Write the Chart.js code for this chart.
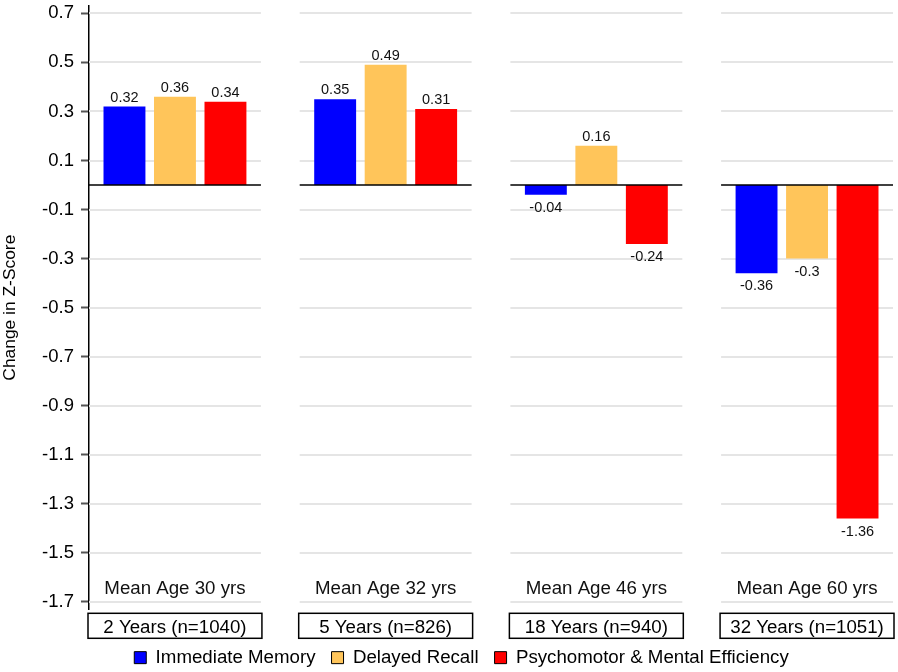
<!DOCTYPE html>
<html>
<head>
<meta charset="utf-8">
<script src="https://cdn.jsdelivr.net/npm/chart.js@4"></script>
<style>
  html, body { margin: 0; padding: 0; background: #fff; }
</style>
</head>
<body>
<canvas id="myChart" width="898" height="672"></canvas>
<script>
// Data
const ageLabels = ["Mean Age 30 yrs", "Mean Age 32 yrs", "Mean Age 46 yrs", "Mean Age 60 yrs"];
const followUps = ["2 Years (n=1040)", "5 Years (n=826)", "18 Years (n=940)", "32 Years (n=1051)"];
const immediateMemory = [0.32, 0.35, -0.04, -0.36];
const delayedRecall = [0.36, 0.49, 0.16, -0.3];
const psychomotor = [0.34, 0.31, -0.24, -1.36];
const yTicks = [0.7, 0.5, 0.3, 0.1, -0.1, -0.3, -0.5, -0.7, -0.9, -1.1, -1.3, -1.5, -1.7];

const FONT = "'Liberation Sans', Arial, sans-serif";
const HALF = 0.408; // half width of one panel, in x units

function points(values) {
  return values.map((v, i) => ({ x: i, y: v }));
}

// Panels: segmented grid lines, zero line, labels and boxes
const panelPlugin = {
  id: "panels",
  afterLayout(chart) {
    // pull the legend up a little, closer to the boxes
    chart.legend.top -= 6;
    chart.legend.bottom -= 6;
  },
  beforeDatasetsDraw(chart) {
    const { ctx, scales: { x, y } } = chart;
    ctx.save();
    ctx.strokeStyle = "#e5e5e5";
    ctx.lineWidth = 2;
    followUps.forEach((_, i) => {
      const l = x.getPixelForValue(i - HALF);
      const r = x.getPixelForValue(i + HALF);
      y.ticks.forEach((t) => {
        const py = Math.round(y.getPixelForValue(t.value));
        ctx.beginPath();
        ctx.moveTo(l, py);
        ctx.lineTo(r, py);
        ctx.stroke();
      });
    });
    ctx.restore();
  },
  afterDatasetsDraw(chart) {
    const { ctx, chartArea, scales: { x, y } } = chart;
    ctx.save();
    // zero line
    ctx.strokeStyle = "#000";
    ctx.lineWidth = 1.5;
    const zy = y.getPixelForValue(0);
    followUps.forEach((_, i) => {
      ctx.beginPath();
      ctx.moveTo(x.getPixelForValue(i - HALF), zy);
      ctx.lineTo(x.getPixelForValue(i + HALF), zy);
      ctx.stroke();
    });
    // value labels
    ctx.fillStyle = "#111";
    ctx.font = "14.5px " + FONT;
    ctx.textAlign = "center";
    ctx.textBaseline = "alphabetic";
    chart.data.datasets.forEach((ds, d) => {
      chart.getDatasetMeta(d).data.forEach((bar, i) => {
        const v = ds.data[i].y;
        const ty = v >= 0 ? bar.y - 5 : bar.y + 17;
        ctx.fillText(String(v), bar.x, ty);
      });
    });
    // mean age labels
    ctx.font = "18.7px " + FONT;
    ctx.textBaseline = "middle";
    ageLabels.forEach((lab, i) => {
      ctx.fillText(lab, x.getPixelForValue(i), chartArea.bottom - 20);
    });
    ctx.restore();
  },
  afterDraw(chart) {
    const { ctx, chartArea, scales: { x } } = chart;
    ctx.save();
    ctx.strokeStyle = "#000";
    ctx.lineWidth = 1.5;
    followUps.forEach((_, i) => {
      const l = x.getPixelForValue(i - HALF) - 1;
      const r = x.getPixelForValue(i + HALF) + 1;
      ctx.strokeRect(l, chartArea.bottom + 4, r - l, 25);
    });
    ctx.restore();
  },
};

const data = {
  datasets: [
    { label: "Immediate Memory", backgroundColor: "#0000ff", data: points(immediateMemory) },
    { label: "Delayed Recall", backgroundColor: "#ffc55a", data: points(delayedRecall) },
    { label: "Psychomotor & Mental Efficiency", backgroundColor: "#ff0000", data: points(psychomotor) },
  ],
};

const config = {
  type: "bar",
  data: data,
  plugins: [panelPlugin],
  options: {
    responsive: false,
    animation: false,
    categoryPercentage: 0.719,
    barPercentage: 0.83,
    layout: { padding: { left: 30, right: 5, top: 6, bottom: -11 } },
    scales: {
      x: {
        type: "linear",
        offset: false,
        min: -HALF,
        max: 3 + HALF,
        afterBuildTicks: (scale) => {
          scale.ticks = followUps.map((_, i) => ({ value: i }));
        },
        afterFit: (scale) => {
          scale.height = 29;
        },
        grid: { display: false, drawTicks: false },
        border: { display: false },
        ticks: {
          autoSkip: false,
          maxRotation: 0,
          padding: 7,
          color: "#000",
          font: { family: FONT, size: 18.7 },
          callback: (value) => followUps[value],
        },
      },
      y: {
        min: -1.73,
        max: 0.73,
        afterBuildTicks: (scale) => {
          scale.ticks = yTicks.map((v) => ({ value: v }));
        },
        afterFit: (scale) => {
          scale.width = 59;
          scale.paddingTop = 0;
          scale.paddingBottom = 0;
        },
        grid: {
          drawOnChartArea: false,
          drawTicks: true,
          tickLength: 8,
          tickColor: "#555",
          tickWidth: 2,
        },
        border: { display: true, color: "#000", width: 1.5 },
        ticks: {
          padding: 7,
          color: "#000",
          font: { family: FONT, size: 18.5 },
          callback: (value) => String(value),
        },
        title: {
          display: true,
          text: "Change in Z-Score",
          color: "#000",
          font: { family: FONT, size: 17.4 },
          padding: { top: -30, bottom: 0 },
        },
      },
    },
    plugins: {
      legend: {
        position: "bottom",
        labels: {
          boxWidth: 12,
          boxHeight: 12,
          padding: 16,
          color: "#000",
          font: { family: FONT, size: 18.7 },
          generateLabels: (chart) =>
            Chart.defaults.plugins.legend.labels.generateLabels(chart).map((item) => ({
              ...item,
              strokeStyle: "#000",
              lineWidth: 1,
            })),
        },
      },
      tooltip: { enabled: false },
    },
  },
};

// Creation of the Chart
const myChart = new Chart(document.getElementById("myChart"), config);
</script>
</body>
</html>
